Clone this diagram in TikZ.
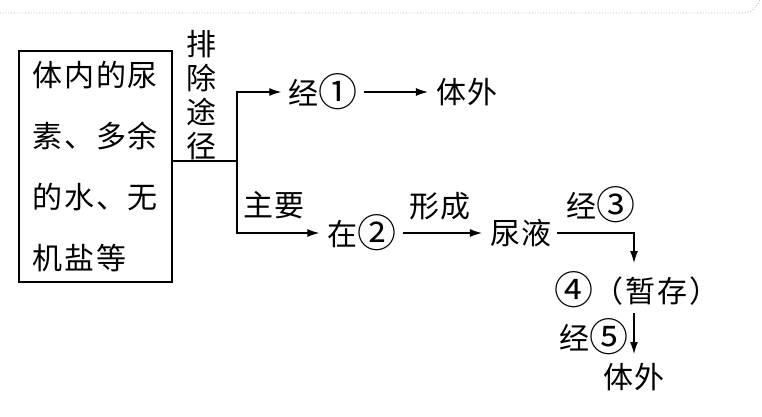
\documentclass[tikz,border=0pt]{standalone}
\usepackage{fontspec}
\newfontfamily\cjk[LetterSpace=6]{Noto Sans CJK SC}
\usetikzlibrary{arrows.meta}
\newcommand\cd[1]{\raisebox{-2.5pt}{\scalebox{1.3}{#1}}}
\begin{document}
\begin{tikzpicture}[x=1pt,y=-1pt,
  txt/.style={font=\cjk\fontsize{30}{34}\selectfont, inner sep=3pt},
  ln/.style={line width=1.2pt},
  arr/.style={ln,-{Latex[length=12pt,width=8pt]}}]
\useasboundingbox (0,0) rectangle (762,416);
% top dotted edge
\draw[gray!70,line width=0.8pt,dotted] (0,13) -- (742,13) .. controls (752,13) and (756,8) .. (760,0);
% box
\node[draw,ln,minimum width=153pt,minimum height=231pt,text width=140pt,inner xsep=6.5pt,inner ysep=0pt,align=left,
  font=\cjk\fontsize{30}{61}\selectfont] (box) at (95.5,166.5) {\hspace{7pt}体内的尿\\\hspace{7pt}素、多余\\\hspace{7pt}的水、无\\\hspace{7pt}机盐等};
\node[txt,align=center,font=\cjk\fontsize{30}{34}\selectfont] (pai) at (201,95) {排\\除\\途\\径};
\coordinate (j) at (237,161);
\node[txt] (jing1) at (323,92) {经\cd{①}};
\node[txt] (ti1) at (467,92) {体外};
\node[txt] (zhuyao) at (274,205) {主要};
\node[txt] (zai2) at (362,233) {在\cd{②}};
\node[txt] (xc) at (440,206) {形成};
\node[txt] (niao) at (521,233) {尿液};
\node[txt] (jing3) at (601,205) {经\cd{③}};
\node[txt] (four) at (637,290) {\cd{④}（\hspace{2pt}暂存\hspace{2pt}）};
\node[txt] (jing5) at (594,337) {经\cd{⑤}};
\node[txt] (ti2) at (634,377) {体外};
\coordinate (t4) at (634,263);
\coordinate (s5) at (634,313);
\coordinate (t5) at (634,354);
\draw[ln] (box.east |- j) -- (j);
\draw[arr] (j) |- ([xshift=-4pt]jing1.west);
\draw[arr] (j) |- ([xshift=-5pt]zai2.west);
\draw[arr] ([xshift=3pt]jing1.east) -- ([xshift=-5pt]ti1.west);
\draw[arr] ([xshift=3pt]zai2.east) -- ([xshift=-5pt]niao.west);
\draw[arr] ([xshift=2pt]niao.east) -| (t4);
\draw[arr] (s5) -- (t5);
\end{tikzpicture}
\end{document}
